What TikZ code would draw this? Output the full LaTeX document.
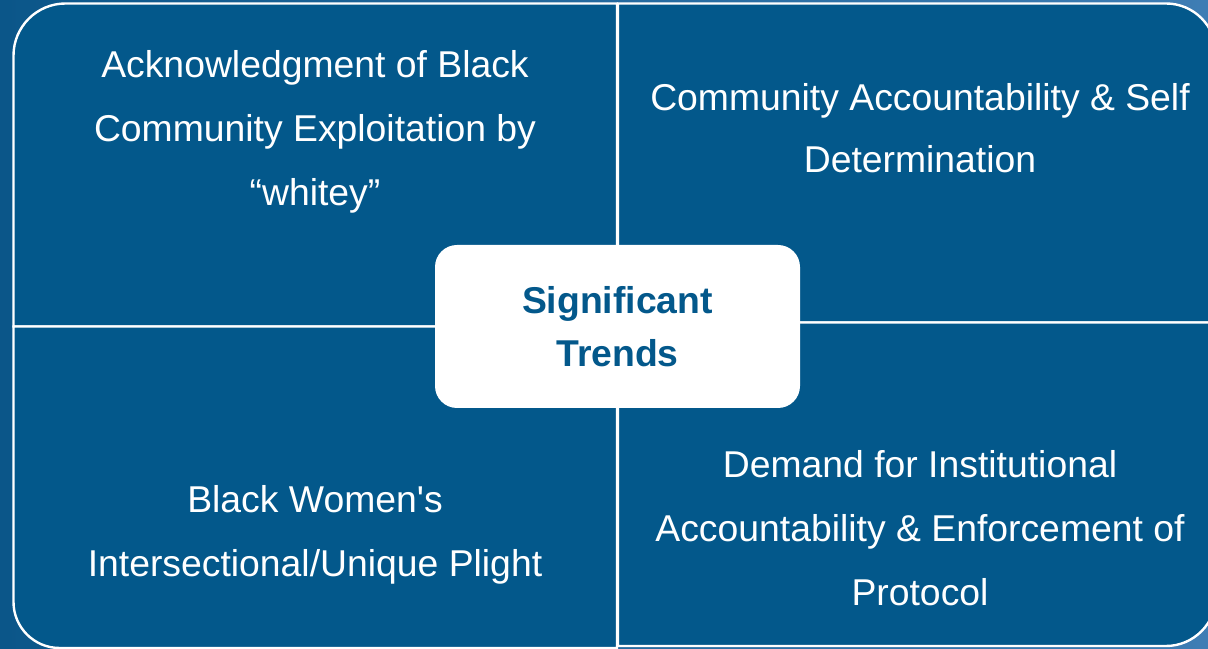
\documentclass[tikz,border=0pt]{standalone}
\usepackage{fontspec}
\setmainfont{Liberation Sans}[Ligatures=TeXOff]
\usepackage{tikz}
\definecolor{trendblue}{HTML}{03588B}
\definecolor{bgdark}{HTML}{0B5689}
\definecolor{bglight}{HTML}{3E7DB4}

\begin{document}
\begin{tikzpicture}[
  x=0.75pt, y=0.75pt,
  quad/.style={fill=trendblue, draw=white, line width=1.8pt},
  label/.style={
    text=white, align=center, inner sep=0pt,
    font=\fontsize{28}{48}\selectfont
  },
  hub/.style={
    rectangle, fill=white, rounded corners=16.5pt,
    minimum width=273.75pt, minimum height=122.25pt,
    text=trendblue, align=center,
    font=\bfseries\fontsize{28}{40}\selectfont
  }
]
  \useasboundingbox (0,0) rectangle (1208,649);
  \shade[left color=bgdark, right color=bglight] (0,0) rectangle (1208,649);

  % Quadrants
  \draw[quad] (617,322.5) -- (617,645.5) -- (65.5,645.5)
    arc[start angle=90, end angle=180, radius=52] -- (13.5,322.5) -- cycle;
  \draw[quad] (618,326.5) -- (618,645.5) -- (1166,645.5)
    arc[start angle=90, end angle=0, radius=50] -- (1216,326.5) -- cycle;
  \draw[quad] (617,322.5) -- (617,1) -- (59.5,1)
    arc[start angle=270, end angle=180, radius=46] -- (13.5,322.5) -- cycle;
  \draw[quad] (618,326.5) -- (618,3) -- (1166,3)
    arc[start angle=270, end angle=360, radius=50] -- (1216,326.5) -- cycle;

  % Quadrant labels
  \node[label] (exploit) at (315,517) {Acknowledgment of Black\\ Community Exploitation by\\ “whitey”};
  \node[label, font=\fontsize{28}{47}\selectfont] (selfdet) at (920,521) {Community Accountability \& Self\\ Determination};
  \node[label] (plight) at (315,114) {Black Women's\\ Intersectional/Unique Plight};
  \node[label] (protocol) at (920,121) {Demand for Institutional\\ Accountability \& Enforcement of\\ Protocol};

  % Centre box
  \node[hub] (trends) at (617.5,322.5) {Significant\\ Trends};
\end{tikzpicture}
\end{document}
